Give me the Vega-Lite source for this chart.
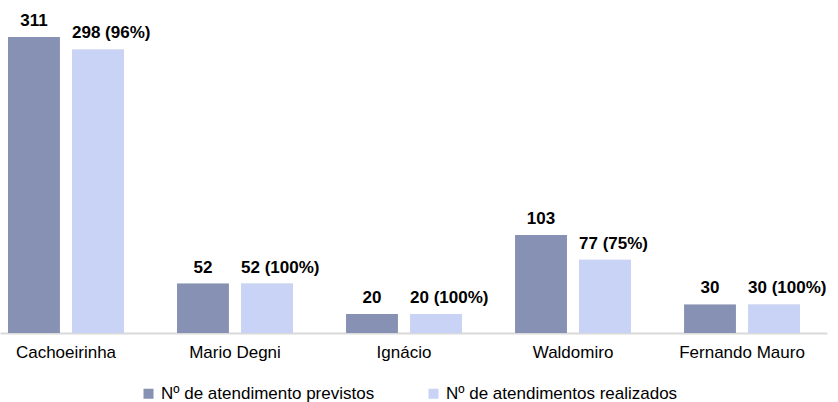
{
  "$schema": "https://vega.github.io/schema/vega-lite/v6.json",
  "width": 827,
  "height": 333,
  "autosize": "none",
  "padding": {"left": 0, "top": 0, "right": 11, "bottom": 69},
  "background": "white",
  "config": {
    "view": {"stroke": null},
    "font": "Liberation Sans",
    "legend": {"padding": 0}
  },
  "data": {
    "values": [
      {"local": "Cachoeirinha", "serie": "Nº de atendimento previstos", "valor": 311, "rotulo": "311"},
      {"local": "Cachoeirinha", "serie": "Nº de atendimentos realizados", "valor": 298, "rotulo": "298 (96%)"},
      {"local": "Mario Degni", "serie": "Nº de atendimento previstos", "valor": 52, "rotulo": "52"},
      {"local": "Mario Degni", "serie": "Nº de atendimentos realizados", "valor": 52, "rotulo": "52 (100%)"},
      {"local": "Ignácio", "serie": "Nº de atendimento previstos", "valor": 20, "rotulo": "20"},
      {"local": "Ignácio", "serie": "Nº de atendimentos realizados", "valor": 20, "rotulo": "20 (100%)"},
      {"local": "Waldomiro", "serie": "Nº de atendimento previstos", "valor": 103, "rotulo": "103"},
      {"local": "Waldomiro", "serie": "Nº de atendimentos realizados", "valor": 77, "rotulo": "77 (75%)"},
      {"local": "Fernando Mauro", "serie": "Nº de atendimento previstos", "valor": 30, "rotulo": "30"},
      {"local": "Fernando Mauro", "serie": "Nº de atendimentos realizados", "valor": 30, "rotulo": "30 (100%)"}
    ]
  },
  "encoding": {
    "x": {
      "field": "local",
      "type": "nominal",
      "sort": null,
      "scale": {"paddingInner": 0.314, "paddingOuter": 0.1036, "align": 0.229},
      "axis": {
        "title": null,
        "labelAngle": 0,
        "ticks": false,
        "domain": true,
        "domainColor": "#d9d9d9",
        "domainWidth": 2,
        "labelFontSize": 17,
        "labelColor": "#000000",
        "labelPadding": 11
      }
    },
    "xOffset": {
      "field": "serie",
      "type": "nominal",
      "sort": null,
      "scale": {"paddingInner": 0.19, "paddingOuter": 0}
    },
    "y": {
      "field": "valor",
      "type": "quantitative",
      "scale": {"domain": [0, 350], "nice": false},
      "axis": null
    }
  },
  "layer": [
    {
      "mark": {"type": "bar", "color": "#000000", "opacity": 0.13, "xOffset": 3},
      "encoding": {}
    },
    {
      "mark": {"type": "bar"},
      "encoding": {
        "color": {
          "field": "serie",
          "type": "nominal",
          "sort": null,
          "scale": {"range": ["#8791B3", "#C9D3F5"]},
          "legend": {
            "title": null,
            "orient": "none",
            "legendX": 140,
            "legendY": 385,
            "direction": "horizontal",
            "symbolType": "square",
            "symbolSize": 100,
            "symbolStrokeWidth": 0,
            "labelFontSize": 17,
            "labelColor": "#000000",
            "labelOffset": 4,
            "labelLimit": 0,
            "columnPadding": 50
          }
        }
      }
    },
    {
      "transform": [{"filter": "datum.serie == 'Nº de atendimento previstos'"}],
      "mark": {"type": "text", "fontWeight": "bold", "fontSize": 17, "baseline": "alphabetic", "dy": -11, "align": "center", "color": "#000000"},
      "encoding": {"text": {"field": "rotulo"}}
    },
    {
      "transform": [{"filter": "datum.serie == 'Nº de atendimentos realizados'"}],
      "mark": {"type": "text", "fontWeight": "bold", "fontSize": 17, "baseline": "alphabetic", "dy": -11, "align": "left", "dx": -26, "color": "#000000"},
      "encoding": {"text": {"field": "rotulo"}}
    }
  ]
}
